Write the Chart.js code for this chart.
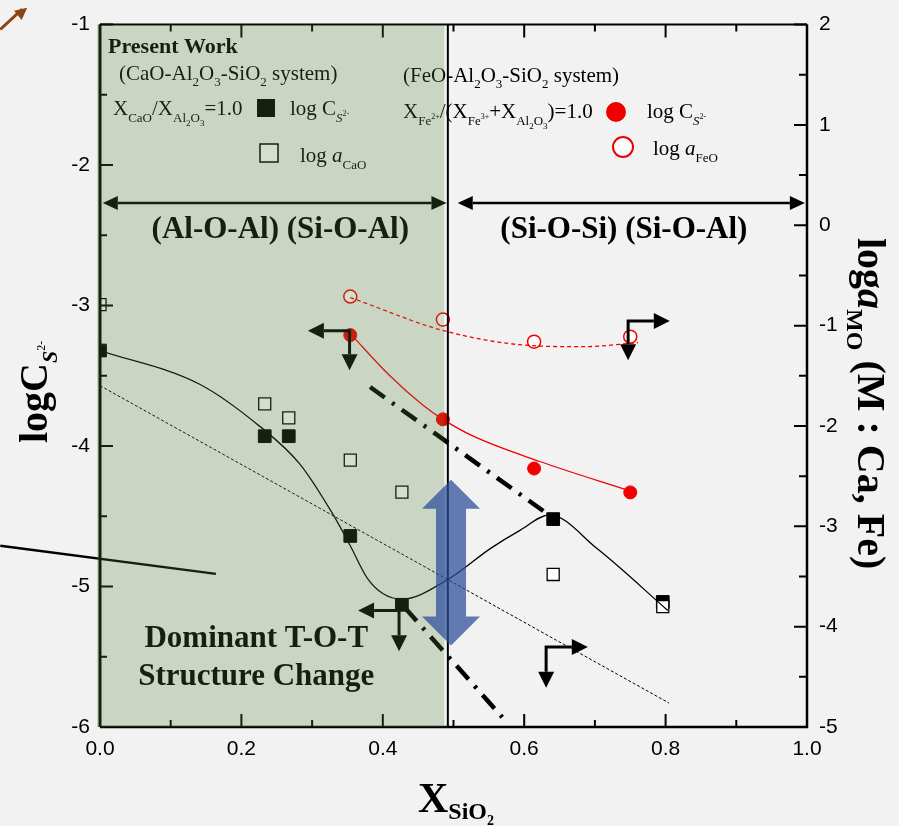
<!DOCTYPE html>
<html>
<head>
<meta charset="utf-8">
<script src="https://cdn.jsdelivr.net/npm/chart.js@4.4.0/dist/chart.umd.min.js"></script>
<style>
  html, body { margin: 0; padding: 0; background: #f2f2f2; }
  canvas { display: block; }
</style>
</head>
<body>
<canvas id="chart" width="899" height="826"></canvas>
<script>
// CaO-Al2O3-SiO2 system (present work), X_CaO/X_Al2O3 = 1.0
const caoX = [0.0, 0.233, 0.267, 0.354, 0.427, 0.641, 0.796];
const caoLogCs = [-3.32, -3.93, -3.93, -4.64, -5.13, -4.52, -5.11];
const caoLogA = [-0.79, -1.78, -1.92, -2.34, -2.66, -3.48, -3.80];

// FeO-Al2O3-SiO2 system
const feoX = [0.354, 0.485, 0.614, 0.750];
const feoLogCs = [-3.21, -3.81, -4.16, -4.33];
const feoLogA = [-0.71, -0.94, -1.16, -1.11];

// guide curves
const caoFitX = [0.0, 0.141, 0.226, 0.283, 0.330, 0.354, 0.378, 0.400, 0.427, 0.492, 0.552, 0.594, 0.636, 0.703, 0.803];
const caoFitY = [-3.32, -3.56, -3.86, -4.13, -4.49, -4.71, -4.94, -5.05, -5.09, -4.95, -4.73, -4.60, -4.49, -4.73, -5.17];
const feoCsFitX = [0.354, 0.410, 0.457, 0.485, 0.528, 0.622, 0.750];
const feoCsFitY = [-3.20, -3.50, -3.71, -3.81, -3.93, -4.11, -4.32];
const feoAFitX = [0.354, 0.491, 0.612, 0.683, 0.761];
const feoAFitY = [-0.72, -1.06, -1.20, -1.21, -1.17];
const trendX = [0.0, 0.805];
const trendY = [-3.57, -5.83];
const dashDotUpperX = [0.382, 0.632];
const dashDotUpperY = [-3.58, -4.48];
const dashDotLowerX = [0.431, 0.569];
const dashDotLowerY = [-5.15, -5.93];

// axes
const xMin = 0, xMax = 1, xStep = 0.2;
const yMin = -6, yMax = -1;
const y2Min = -5, y2Max = 2;

const serif = '"Liberation Serif", "Times New Roman", serif';
const red = '#f00000';

const pts = (xs, ys) => xs.map((x, i) => ({ x: x, y: ys[i] }));

function rich(ctx, x, y, parts, measureOnly) {
  let cx = x;
  parts.forEach(p => {
    ctx.font = (p.i ? 'italic ' : '') + (p.b ? 'bold ' : '') + p.s + 'px ' + serif;
    if (!measureOnly) ctx.fillText(p.t, cx, y + (p.dy || 0));
    cx += ctx.measureText(p.t).width;
  });
  return cx - x;
}

function richCentered(ctx, x, y, parts) {
  const w = rich(ctx, 0, 0, parts, true);
  rich(ctx, x - w / 2, y, parts);
}

function head(ctx, x, y, dx, dy, len, half) {
  ctx.beginPath();
  ctx.moveTo(x, y);
  ctx.lineTo(x - dx * len - dy * half, y - dy * len + dx * half);
  ctx.lineTo(x - dx * len + dy * half, y - dy * len - dx * half);
  ctx.closePath();
  ctx.fill();
}

function cornerArrow(ctx, cx, cy, hx, vy) {
  const hl = 16, hw = 8;
  const sx = Math.sign(hx - cx);
  ctx.lineWidth = 3;
  ctx.beginPath();
  ctx.moveTo(hx - sx * hl, cy);
  ctx.lineTo(cx, cy);
  ctx.lineTo(cx, vy - hl);
  ctx.stroke();
  head(ctx, hx, cy, sx, 0, hl, hw);
  head(ctx, cx, vy, 0, 1, hl, hw);
}

function doubleArrow(ctx, x1, x2, y) {
  const hl = 15, hw = 7;
  ctx.lineWidth = 2.5;
  ctx.beginPath();
  ctx.moveTo(x1 + hl, y);
  ctx.lineTo(x2 - hl, y);
  ctx.stroke();
  head(ctx, x1, y, -1, 0, hl, hw);
  head(ctx, x2, y, 1, 0, hl, hw);
}

const decorations = {
  id: 'decorations',
  afterDatasetsDraw(chart) {
    const ctx = chart.ctx;
    const xs = chart.scales.x, yl = chart.scales.y, yr = chart.scales.y2;
    const { left, right, top, bottom } = chart.chartArea;
    const X = v => xs.getPixelForValue(v);
    const Y = v => yl.getPixelForValue(v);
    ctx.save();
    ctx.textBaseline = 'alphabetic';
    ctx.fillStyle = '#000';
    ctx.strokeStyle = '#000';
    ctx.setLineDash([]);

    // stray lines left over from the cropped figure
    ctx.lineWidth = 2.5;
    ctx.beginPath();
    ctx.moveTo(X(-0.141), Y(-4.71));
    ctx.lineTo(X(0.164), Y(-4.91));
    ctx.stroke();
    ctx.strokeStyle = '#8b4513';
    ctx.fillStyle = '#8b4513';
    ctx.lineWidth = 3;
    ctx.beginPath();
    ctx.moveTo(X(-0.141), Y(-1.035));
    ctx.lineTo(X(-0.11), Y(-0.89));
    ctx.stroke();
    head(ctx, X(-0.103), Y(-0.88), 0.775, -0.632, 12, 6);
    ctx.strokeStyle = '#000';
    ctx.fillStyle = '#000';

    // legend, present work
    rich(ctx, 108, 53, [{ t: 'Present Work', b: 1, s: 22 }]);
    rich(ctx, 119, 80, [
      { t: '(CaO-Al', s: 21 }, { t: '2', s: 13, dy: 6 }, { t: 'O', s: 21 }, { t: '3', s: 13, dy: 6 },
      { t: '-SiO', s: 21 }, { t: '2', s: 13, dy: 6 }, { t: ' system)', s: 21 }]);
    rich(ctx, 113, 115, [
      { t: 'X', s: 21 }, { t: 'CaO', s: 13, dy: 7 }, { t: '/X', s: 21 }, { t: 'Al', s: 13, dy: 7 },
      { t: '2', s: 9, dy: 11 }, { t: 'O', s: 13, dy: 7 }, { t: '3', s: 9, dy: 11 }, { t: '=1.0', s: 21 }]);
    ctx.fillRect(257, 99, 18, 18);
    rich(ctx, 290, 115, [{ t: 'log C', s: 21 }, { t: 'S', i: 1, s: 13, dy: 7 }, { t: '2-', s: 8, dy: 1 }]);
    ctx.lineWidth = 1.5;
    ctx.fillStyle = '#fff';
    ctx.fillRect(260, 144, 18, 18);
    ctx.strokeRect(260, 144, 18, 18);
    ctx.fillStyle = '#000';
    rich(ctx, 300, 162, [{ t: 'log ', s: 21 }, { t: 'a', i: 1, s: 21 }, { t: 'CaO', s: 13, dy: 7 }]);

    // legend, FeO system
    rich(ctx, 403, 82, [
      { t: '(FeO-Al', s: 21 }, { t: '2', s: 13, dy: 6 }, { t: 'O', s: 21 }, { t: '3', s: 13, dy: 6 },
      { t: '-SiO', s: 21 }, { t: '2', s: 13, dy: 6 }, { t: ' system)', s: 21 }]);
    rich(ctx, 403, 118, [
      { t: 'X', s: 21 }, { t: 'Fe', s: 13, dy: 7 }, { t: '2+', s: 8, dy: 1 }, { t: '/(X', s: 21 },
      { t: 'Fe', s: 13, dy: 7 }, { t: '3+', s: 8, dy: 1 }, { t: '+X', s: 21 }, { t: 'Al', s: 13, dy: 7 },
      { t: '2', s: 9, dy: 11 }, { t: 'O', s: 13, dy: 7 }, { t: '3', s: 9, dy: 11 }, { t: ')=1.0', s: 21 }]);
    ctx.fillStyle = red;
    ctx.beginPath(); ctx.arc(616, 112, 10, 0, Math.PI * 2); ctx.fill();
    ctx.fillStyle = '#fff';
    ctx.strokeStyle = red;
    ctx.lineWidth = 2;
    ctx.beginPath(); ctx.arc(623, 147, 10, 0, Math.PI * 2); ctx.fill(); ctx.stroke();
    ctx.fillStyle = '#000';
    ctx.strokeStyle = '#000';
    rich(ctx, 647, 118, [{ t: 'log C', s: 21 }, { t: 'S', i: 1, s: 13, dy: 7 }, { t: '2-', s: 8, dy: 1 }]);
    rich(ctx, 653, 155, [{ t: 'log ', s: 21 }, { t: 'a', i: 1, s: 21 }, { t: 'FeO', s: 13, dy: 7 }]);

    // structure regions
    doubleArrow(ctx, X(0.004), X(0.49), Y(-2.27));
    doubleArrow(ctx, X(0.506), X(0.997), Y(-2.27));
    richCentered(ctx, X(0.255), Y(-2.52), [{ t: '(Al-O-Al) (Si-O-Al)', b: 1, s: 31 }]);
    richCentered(ctx, X(0.741), Y(-2.52), [{ t: '(Si-O-Si) (Si-O-Al)', b: 1, s: 31 }]);
    richCentered(ctx, X(0.221), Y(-5.43), [{ t: 'Dominant T-O-T', b: 1, s: 31 }]);
    richCentered(ctx, X(0.221), Y(-5.70), [{ t: 'Structure Change', b: 1, s: 31 }]);

    // limit arrows
    cornerArrow(ctx, X(0.353), Y(-3.18), X(0.294), Y(-3.46));
    cornerArrow(ctx, X(0.423), Y(-5.17), X(0.365), Y(-5.46));
    cornerArrow(ctx, X(0.747), Y(-3.11), X(0.806), Y(-3.39));
    cornerArrow(ctx, X(0.631), Y(-5.43), X(0.690), Y(-5.72));

    // frame and inward ticks
    ctx.lineWidth = 2;
    ctx.beginPath();
    for (let i = 0; i <= 10; i++) {
      const px = X(i / 10), len = i % 2 === 0 ? 13 : 7;
      ctx.moveTo(px, bottom); ctx.lineTo(px, bottom - len);
      ctx.moveTo(px, top); ctx.lineTo(px, top + len);
    }
    for (let i = 0; i <= 10; i++) {
      const py = Y(yMin + i / 2), len = i % 2 === 0 ? 13 : 7;
      ctx.moveTo(left, py); ctx.lineTo(left + len, py);
    }
    for (let i = 0; i <= 14; i++) {
      const py = yr.getPixelForValue(y2Min + i / 2), len = i % 2 === 0 ? 13 : 8;
      ctx.moveTo(right, py); ctx.lineTo(right - len, py);
    }
    ctx.stroke();
    ctx.lineWidth = 2;
    ctx.beginPath(); ctx.moveTo(left, top); ctx.lineTo(right, top); ctx.stroke();
    ctx.lineWidth = 2.5;
    ctx.beginPath(); ctx.moveTo(left, bottom); ctx.lineTo(right, bottom); ctx.lineTo(right, top); ctx.stroke();
    ctx.lineWidth = 3;
    ctx.beginPath(); ctx.moveTo(left, top); ctx.lineTo(left, bottom); ctx.stroke();

    // shaded T-O-T region
    ctx.fillStyle = 'rgba(88,128,60,0.25)';
    ctx.fillRect(left - 3, top, X(0.487) - left + 3, bottom - top);

    // boundary line
    ctx.fillStyle = '#000';
    ctx.lineWidth = 2;
    ctx.beginPath(); ctx.moveTo(X(0.492), top); ctx.lineTo(X(0.492), bottom); ctx.stroke();

    // blue double arrow
    const cx = X(0.4965), t = Y(-4.24), b = Y(-5.42);
    const hw = 29, sw = 15, hl = 29;
    ctx.fillStyle = 'rgba(42,77,153,0.73)';
    ctx.beginPath();
    ctx.moveTo(cx, t);
    ctx.lineTo(cx + hw, t + hl); ctx.lineTo(cx + sw, t + hl);
    ctx.lineTo(cx + sw, b - hl); ctx.lineTo(cx + hw, b - hl);
    ctx.lineTo(cx, b);
    ctx.lineTo(cx - hw, b - hl); ctx.lineTo(cx - sw, b - hl);
    ctx.lineTo(cx - sw, t + hl); ctx.lineTo(cx - hw, t + hl);
    ctx.closePath();
    ctx.fill();

    // axis titles
    ctx.fillStyle = '#000';
    ctx.save();
    ctx.translate(47, 443);
    ctx.rotate(-Math.PI / 2);
    rich(ctx, 0, 0, [{ t: 'logC', b: 1, s: 40 }, { t: 'S', i: 1, b: 1, s: 22, dy: 10 }, { t: '2-', s: 12, dy: -2 }]);
    ctx.restore();
    ctx.save();
    ctx.translate(858, 238);
    ctx.rotate(Math.PI / 2);
    rich(ctx, 0, 0, [{ t: 'log', b: 1, s: 40 }, { t: 'a', b: 1, i: 1, s: 40 }, { t: 'MO', b: 1, s: 24, dy: 11 },
      { t: ' (M : Ca, Fe)', b: 1, s: 40 }]);
    ctx.restore();
    rich(ctx, 418, 812, [{ t: 'X', b: 1, s: 42 }, { t: 'SiO', b: 1, s: 24, dy: 7 }, { t: '2', b: 1, s: 14, dy: 13 }]);

    ctx.restore();
  }
};

const tickFont = { family: '"Liberation Sans", Arial, sans-serif', size: 21 };

const dashDot = (xs, ys) => ({
  data: pts(xs, ys), yAxisID: 'y', showLine: true, pointRadius: 0,
  borderColor: '#000', borderWidth: 4.5, borderDash: [18, 9, 3, 9], clip: 0,
});

new Chart(document.getElementById('chart'), {
  type: 'scatter',
  data: {
    datasets: [
      { label: 'fit CaO', data: pts(caoFitX, caoFitY), yAxisID: 'y', showLine: true, pointRadius: 0,
        borderColor: '#000', borderWidth: 1.3, cubicInterpolationMode: 'monotone', clip: 0 },
      { label: 'fit FeO Cs', data: pts(feoCsFitX, feoCsFitY), yAxisID: 'y', showLine: true, pointRadius: 0,
        borderColor: red, borderWidth: 1.3, cubicInterpolationMode: 'monotone', clip: 0 },
      { label: 'fit FeO a', data: pts(feoAFitX, feoAFitY), yAxisID: 'y2', showLine: true, pointRadius: 0,
        borderColor: red, borderWidth: 1.3, borderDash: [4, 3], cubicInterpolationMode: 'monotone', clip: 0 },
      { label: 'trend', data: pts(trendX, trendY), yAxisID: 'y', showLine: true, pointRadius: 0,
        borderColor: '#000', borderWidth: 1, borderDash: [3, 2], clip: 0 },
      Object.assign({ label: 'dash-dot upper' }, dashDot(dashDotUpperX, dashDotUpperY)),
      Object.assign({ label: 'dash-dot lower' }, dashDot(dashDotLowerX, dashDotLowerY)),
      { label: 'log aFeO', data: pts(feoX, feoLogA), yAxisID: 'y2', pointStyle: 'circle', pointRadius: 6.5,
        backgroundColor: '#fff', borderColor: red, borderWidth: 1.5, clip: 0 },
      { label: 'log Cs FeO', data: pts(feoX, feoLogCs), yAxisID: 'y', pointStyle: 'circle', pointRadius: 6.5,
        backgroundColor: red, borderColor: red, borderWidth: 1, clip: 0 },
      { label: 'log aCaO', data: pts(caoX, caoLogA), yAxisID: 'y2', pointStyle: 'rect', pointRadius: 8.5,
        backgroundColor: '#fff', borderColor: '#000', borderWidth: 1.3, clip: 0 },
      { label: 'log Cs CaO', data: pts(caoX, caoLogCs), yAxisID: 'y', pointStyle: 'rect', pointRadius: 9,
        backgroundColor: '#000', borderColor: '#000', borderWidth: 1, clip: 0 },
    ],
  },
  options: {
    responsive: false,
    animation: false,
    devicePixelRatio: 1,
    layout: { padding: { top: 20, left: 0, right: 0, bottom: 0 } },
    scales: {
      x: {
        type: 'linear', min: xMin, max: xMax,
        grid: { display: false, drawTicks: false }, border: { display: false },
        ticks: { stepSize: xStep, font: tickFont, color: '#000', padding: 10,
          callback: (v) => v.toFixed(1) },
        afterFit: (s) => { s.height = 99; },
      },
      y: {
        type: 'linear', position: 'left', min: yMin, max: yMax,
        grid: { display: false, drawTicks: false }, border: { display: false },
        ticks: { stepSize: 1, font: tickFont, color: '#000', padding: 10 },
        afterFit: (s) => { s.width = 100; },
      },
      y2: {
        type: 'linear', position: 'right', min: y2Min, max: y2Max,
        grid: { display: false, drawTicks: false }, border: { display: false },
        ticks: { stepSize: 1, font: tickFont, color: '#000', padding: 12 },
        afterFit: (s) => { s.width = 92; },
      },
    },
    plugins: {
      legend: { display: false },
      tooltip: { enabled: false },
    },
  },
  plugins: [decorations],
});
</script>
</body>
</html>
